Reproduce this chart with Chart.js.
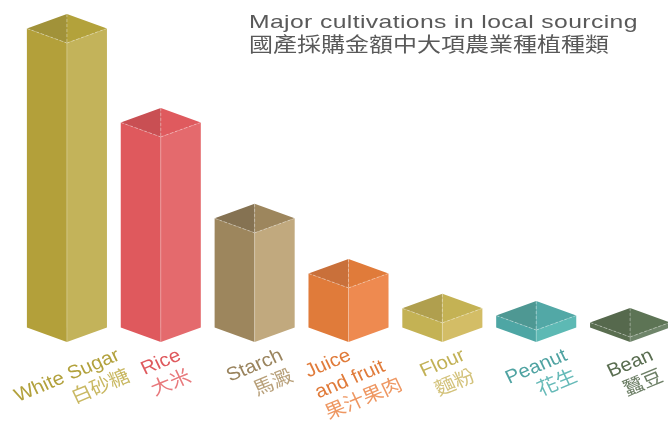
<!DOCTYPE html>
<html>
<head>
<meta charset="utf-8">
<script src="https://cdn.jsdelivr.net/npm/chart.js@4.4.1/dist/chart.umd.min.js"></script>
<style>
  html, body { margin:0; padding:0; background:#fff; overflow:hidden; }
  #wrap { position:relative; width:680px; height:421px; }
  .ttl { position:absolute; left:249px; white-space:nowrap; color:#595959; transform-origin:0 0; }
  #t1 { top:12px; font:19px/19px "Liberation Sans", Arial, sans-serif; letter-spacing:0.3px; transform:scaleX(1.3); }
  #t2 { top:34px; font:20px/20px "Noto Sans CJK TC", sans-serif; transform:scaleX(1.2); }
</style>
</head>
<body>
<div id="wrap">
  <canvas id="meuGrafico"></canvas>
  <div class="ttl" id="t1"></div>
  <div class="ttl" id="t2"></div>
</div>
<script>
// dados
var tituloEn = "Major cultivations in local sourcing";
var tituloZh = "國產採購金額中大項農業種植種類";
var rotulosEn = ["White Sugar", "Rice", "Starch", ["Juice", "and fruit"], "Flour", "Peanut", "Bean"];
var rotulosZh = ["白砂糖", "大米", "馬澱", "果汁果肉", "麵粉", "花生", "蠶豆"];
var valores = [100, 68.6, 36.5, 18.1, 6.4, 4.0, 1.7];

// cores de cada caixa: face esquerda, face direita, topo esq, topo dir, texto en, texto zh
var paleta = [
  {esq:"#b3a03a", dir:"#c3b35a", tEsq:"#a19239", tDir:"#b3a23b", en:"#b2a13c", zh:"#c9b862"},
  {esq:"#df595d", dir:"#e46a6d", tEsq:"#c94f53", tDir:"#df5a5e", en:"#df5a5e", zh:"#e8797c"},
  {esq:"#9d865d", dir:"#c1a97e", tEsq:"#857252", tDir:"#9d865d", en:"#9a845e", zh:"#b8a07a"},
  {esq:"#e07b3a", dir:"#ee8a50", tEsq:"#c9703a", tDir:"#e07b3a", en:"#e07b3a", zh:"#ee9762"},
  {esq:"#c4b254", dir:"#d3bd66", tEsq:"#b09f4e", tDir:"#c4b254", en:"#c2b156", zh:"#d3c27a"},
  {esq:"#4ea6a4", dir:"#5db9b4", tEsq:"#4e9893", tDir:"#52a8a6", en:"#4fa3a2", zh:"#66bab8"},
  {esq:"#5a6e50", dir:"#6f856a", tEsq:"#56694d", tDir:"#5d7455", en:"#5a6e51", zh:"#6d7f66"}
];

document.getElementById("t1").textContent = tituloEn;
document.getElementById("t2").textContent = tituloZh;

function poly(ctx, pts, cor){
  ctx.beginPath();
  ctx.moveTo(pts[0][0], pts[0][1]);
  for (var k = 1; k < pts.length; k++) ctx.lineTo(pts[k][0], pts[k][1]);
  ctx.closePath();
  ctx.fillStyle = cor;
  ctx.fill();
}

function linha(ctx, a, b){
  ctx.beginPath();
  ctx.moveTo(a[0], a[1]);
  ctx.lineTo(b[0], b[1]);
  ctx.stroke();
}

var caixas = {
  id: "caixas",
  afterDatasetsDraw: function(chart){
    var ctx = chart.ctx;
    var meta = chart.getDatasetMeta(0);
    ctx.save();
    meta.data.forEach(function(bar, i){
      var p = paleta[i];
      var cx = bar.x, topo = bar.y, base = bar.base, hw = bar.width / 2, d = 14.5;
      poly(ctx, [[cx-hw, topo-d], [cx, topo], [cx, base], [cx-hw, base-d]], p.esq);
      poly(ctx, [[cx, topo], [cx+hw, topo-d], [cx+hw, base-d], [cx, base]], p.dir);
      poly(ctx, [[cx-hw, topo-d], [cx, topo-2*d], [cx, topo]], p.tEsq);
      poly(ctx, [[cx, topo-2*d], [cx+hw, topo-d], [cx, topo]], p.tDir);
      ctx.strokeStyle = "rgba(255,255,255,0.35)";
      ctx.lineWidth = 1;
      ctx.setLineDash([3, 2]);
      linha(ctx, [cx-hw, topo-d], [cx, topo]);
      linha(ctx, [cx, topo], [cx+hw, topo-d]);
      linha(ctx, [cx, topo-2*d], [cx, topo]);
      ctx.setLineDash([]);
      ctx.strokeStyle = "rgba(255,255,255,0.25)";
      linha(ctx, [cx, topo], [cx, base]);
    });
    ctx.restore();
  }
};

var rotulos = {
  id: "rotulos",
  afterDraw: function(chart){
    var ctx = chart.ctx;
    var sx = 1.08, ang = 24 * Math.PI / 180, fs = 19, lh = 23;
    var ux = sx * Math.cos(ang), uy = -Math.sin(ang), vx = sx * Math.sin(ang), vy = Math.cos(ang);
    var fEn = fs + 'px "Liberation Sans", Arial, sans-serif';
    var fZh = fs + 'px "Noto Sans CJK TC", sans-serif';
    var base = chart.scales.y.getPixelForValue(0);
    ctx.save();
    rotulosEn.forEach(function(r, i){
      var cx = chart.scales.x.getPixelForValue(i);
      var linhas = [].concat(r);
      ctx.font = fEn;
      var wEn = linhas.map(function(t){ return ctx.measureText(t).width; });
      ctx.font = fZh;
      var wZh = ctx.measureText(rotulosZh[i]).width;
      var maxEn = Math.max.apply(null, wEn);
      var itens = linhas.map(function(t, k){ return {t:t, a:0, b:k*lh, w:wEn[k], zh:false}; });
      itens.push({t:rotulosZh[i], a:Math.max(0, maxEn - wZh), b:linhas.length*lh, w:wZh, zh:true});
      var minX = 1e9, maxX = -1e9, minY = 1e9;
      itens.forEach(function(it){
        var asc = it.zh ? 0.85*fs : 0.72*fs, desc = 0.1*fs;
        [[it.a, it.b-asc], [it.a+it.w, it.b-asc], [it.a, it.b+desc], [it.a+it.w, it.b+desc]].forEach(function(c){
          var x = ux*c[0] + vx*c[1], y = uy*c[0] + vy*c[1];
          minX = Math.min(minX, x); maxX = Math.max(maxX, x); minY = Math.min(minY, y);
        });
      });
      var ox = cx + 5 - (minX + maxX) / 2, oy = base + 5 - minY;
      ctx.save();
      ctx.translate(ox, oy);
      ctx.transform(ux, uy, vx, vy, 0, 0);
      ctx.textAlign = "left";
      ctx.textBaseline = "alphabetic";
      itens.forEach(function(it){
        ctx.font = it.zh ? fZh : fEn;
        ctx.fillStyle = it.zh ? paleta[i].zh : paleta[i].en;
        ctx.fillText(it.t, it.a, it.b);
      });
      ctx.restore();
    });
    ctx.restore();
  }
};

new Chart("meuGrafico", {
  type: "bar",
  data: {
    labels: rotulosEn,
    datasets: [{
      data: valores,
      backgroundColor: "rgba(0,0,0,0)",
      borderWidth: 0,
      categoryPercentage: 1,
      barPercentage: 0.853
    }]
  },
  options: {
    responsive: true,
    maintainAspectRatio: false,
    animation: false,
    layout: {padding: {left: 20, right: 3, top: 43, bottom: 79}},
    plugins: {legend: {display: false}, tooltip: {enabled: false}, title: {display: false}},
    scales: {
      x: {display: false},
      y: {display: false, min: 0, max: 100}
    }
  },
  plugins: [caixas, rotulos]
});
</script>
</body>
</html>
